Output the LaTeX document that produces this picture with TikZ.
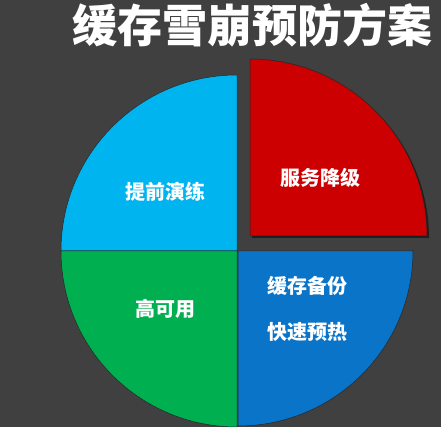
\documentclass[tikz,border=0pt]{standalone}
\usepackage{fontspec}
\newfontfamily\cjk{Noto Sans CJK SC}
\definecolor{bgGray}{HTML}{404040}
\definecolor{sliceSky}{HTML}{00B4F0}
\definecolor{sliceRed}{HTML}{CC0000}
\definecolor{sliceGreen}{HTML}{00B050}
\definecolor{sliceBlue}{HTML}{0A74C8}
\begin{document}
\begin{tikzpicture}[x=1pt,y=1pt,
    label/.style={text=white,font=\cjk\bfseries\fontsize{20}{24}\selectfont,inner sep=0pt},
    rim/.style={draw=black!85,line width=0.5pt}]
      \fill[bgGray] (0,0) rectangle (441,427);
      \useasboundingbox (0,0) rectangle (441,427);
      \coordinate (c) at (237,176);
      \coordinate (r) at (250,191);
      % slices
      \fill[sliceSky,rim] (c) -- ++(180:176) arc[start angle=180,end angle=90,radius=176] -- cycle;
      \fill[sliceGreen,rim] (c) -- ++(180:176) arc[start angle=180,end angle=270,radius=176] -- cycle;
      \fill[sliceBlue,rim] ([xshift=1pt]c) -- ++(0:175) arc[start angle=0,end angle=-90,radius=175] -- cycle;
      \fill[black,opacity=0.5] ([shift={(2,-2)}]r) -- ++(0:177) arc[start angle=0,end angle=90,radius=177] -- cycle;
      \fill[sliceRed,rim] (r) -- ++(0:177) arc[start angle=0,end angle=90,radius=177] -- cycle;
      % texts
      \node[text=white,font=\cjk\bfseries\fontsize{45}{50}\selectfont,inner sep=0pt] (title) at (252,402) {缓存雪崩预防方案};
      \node[label] (drill) at (165,235) {提前演练};
      \node[label] (degrade) at (320,249) {服务降级};
      \node[label] (avail) at (165,118) {高可用};
      \node[label] (backup) at (307,141) {缓存备份};
      \node[label] (warm) at (307,95) {快速预热};
    \end{tikzpicture}
\end{document}
